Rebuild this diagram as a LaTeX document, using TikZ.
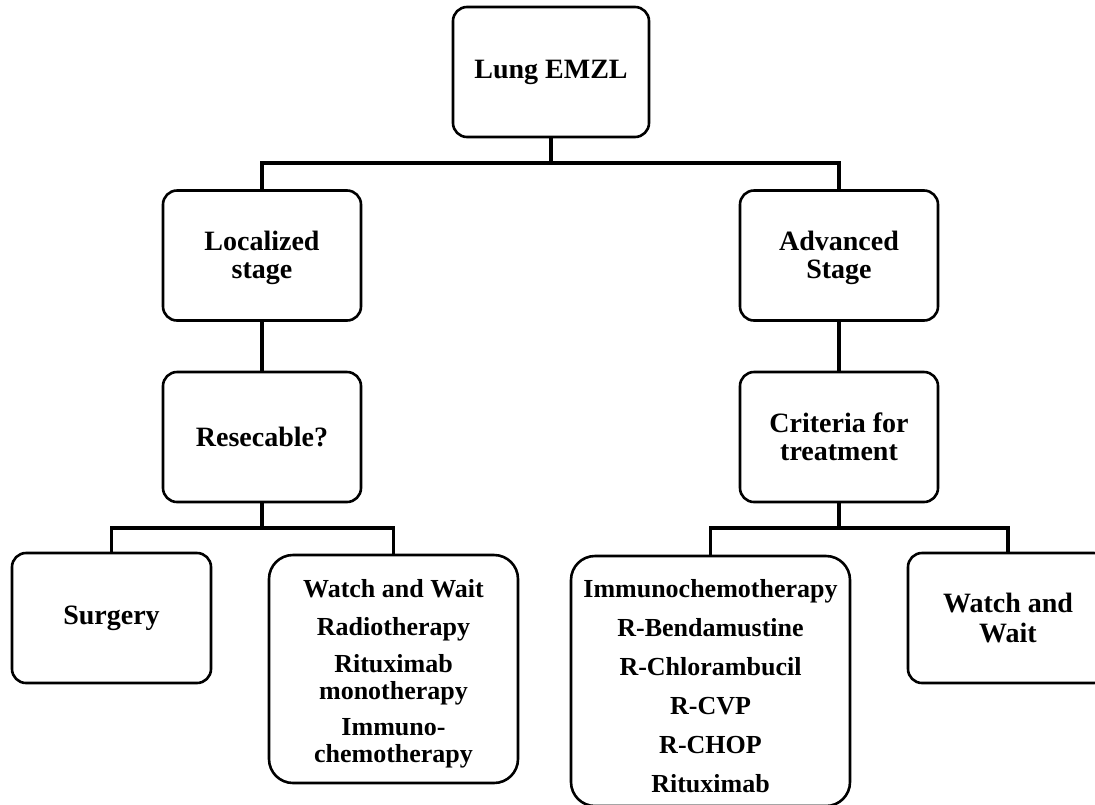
\documentclass[tikz,border=0pt]{standalone}
\usepackage{fontspec}
\setmainfont{Liberation Serif}
\begin{document}
\begin{tikzpicture}[x=1pt,y=-1pt,
  box/.style={draw, line width=2.6pt, rounded corners=14pt, align=center, inner sep=0pt,
    minimum width=198pt, minimum height=130pt, font=\fontsize{28}{28}\selectfont\bfseries},
  listbox/.style={box, rounded corners=24pt, font=\fontsize{26}{27}\selectfont\bfseries},
  link/.style={line width=3.8pt}]
\useasboundingbox (0,0) rectangle (1095,804);
\clip (0,0) rectangle (1095,804);
\node[box, minimum width=196pt] (lung) at (551,72){Lung EMZL};
\node[box] (loc) at (262,255.5){\rule{0pt}{25pt}Localized\\stage};
\node[box] (adv) at (839,255.5){\rule{0pt}{25pt}Advanced\\Stage};
\node[box] (res) at (262,437){Resecable?};
\node[box] (crit) at (839,437){Criteria for\\treatment};
\node[box, minimum width=199pt] (surg) at (111.5,618){Surgery};
\node[listbox, minimum width=249pt, minimum height=228pt] (wwl) at (393.5,669){\rule{0pt}{27pt}Watch and Wait\\[11pt]Radiotherapy\\[10pt]Rituximab\\monotherapy\\[9pt]Immuno-\\chemotherapy};
\node[listbox, minimum width=279pt, minimum height=250pt] (immu) at (710.5,681){\rule{0pt}{29pt}Immunochemotherapy\\[12pt]R-Bendamustine\\[12pt]R-Chlorambucil\\[12pt]R-CVP\\[12pt]R-CHOP\\[12pt]Rituximab};
\node[box, minimum width=200pt] (wwr) at (1008,618){Watch and\\[2pt]Wait};
\coordinate (j1) at (551,163);
\coordinate (j2) at (262,528);
\coordinate (j3) at (839,528);
\draw[link](lung) -- (j1);
\draw[link](loc.north) |- (j1) -| (adv.north);
\draw[link](loc) -- (res);
\draw[link](adv) -- (crit);
\draw[link](res) -- (j2);
\draw[link](surg.north) |- (j2) -| (wwl.north);
\draw[link](crit) -- (j3);
\draw[link](immu.north) |- (j3) -| (wwr.north);
\end{tikzpicture}
\end{document}
